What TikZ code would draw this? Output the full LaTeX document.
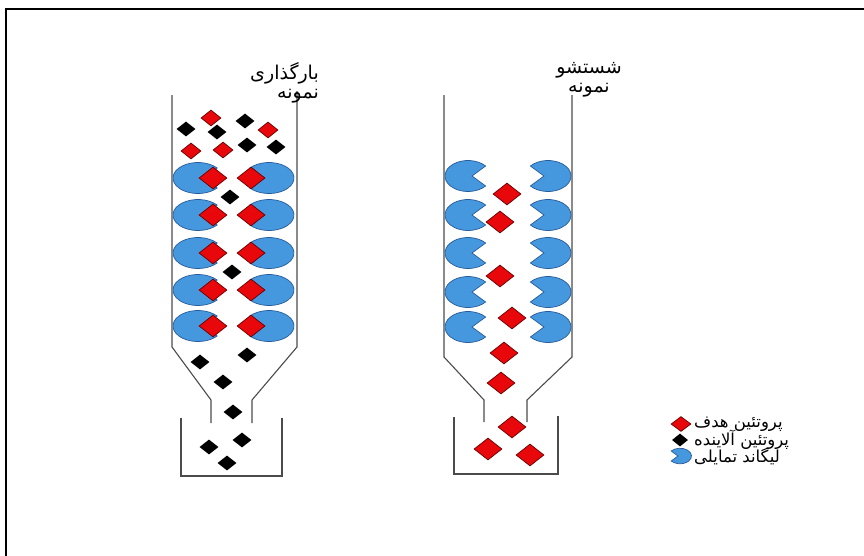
\documentclass[tikz,border=0pt]{standalone}
\usepackage{fontspec}
\newfontfamily\arabicfont[Script=Arabic]{DejaVu Sans}
\TeXXeTstate=1
\usetikzlibrary{shapes.geometric}

\definecolor{targetred}{RGB}{232,8,12}
\definecolor{targetedge}{RGB}{105,0,0}
\definecolor{ligandblue}{RGB}{70,152,222}
\definecolor{ligandedge}{RGB}{38,92,155}
\definecolor{wallgray}{RGB}{75,75,75}

\tikzset{
target/.style = {diamond, draw=targetedge, fill=targetred, line width=0.7pt, inner sep=0pt, minimum width=28pt, minimum height=22pt},
loose/.style = {minimum width=20pt, minimum height=16pt},
impurity/.style = {diamond, fill=black, inner sep=0pt, minimum width=19pt, minimum height=15pt},
wall/.style = {draw=wallgray, line width=1.1pt},
farsi/.style = {font=\arabicfont\fontsize{19}{19}\selectfont, inner sep=0pt},
keytext/.style = {farsi, font=\arabicfont\fontsize{16.5}{16}\selectfont},
pics/ligand/.style = {code = {
  \filldraw[fill=ligandblue, draw=ligandedge, line width=0.7pt]
    (4pt,0pt) -- (40:#1pt and 15.5pt)
    arc[start angle=40, end angle=320, x radius=#1pt, y radius=15.5pt] -- cycle;
}}
}

\begin{document}
\begin{tikzpicture}[x=1pt, y=-1pt]
  \useasboundingbox (0,0) rectangle (864,555);
  \clip (0,0) rectangle (864,555);
  \draw [line width=1.6pt] (6,570) -- (6,9) -- (880,9);

  % loading column
  \draw [wall] (172,95) -- (172,347) -- (211,400) -- (211,423);
  \draw [wall] (297,91) -- (297,347) -- (252,400) -- (252,423);
  \draw [wall] (181,418) -- (181,476) -- (282,476) -- (282,418);

  % washing column
  \draw [wall] (444,95) -- (444,357) -- (484,400) -- (484,422);
  \draw [wall] (572,95) -- (572,357) -- (527,400) -- (527,422);
  \draw [wall] (454,417) -- (454,474) -- (558,474) -- (558,416);

  % ligands with bound target
  \foreach \y [count=\i] in {178,215,253,290,326} {
    \pic at (198,\y) {ligand=25};
    \pic [xscale=-1] at (269,\y) {ligand=25};
    \node [target] (bl-\i) at (213,\y) {};
    \node [target] (br-\i) at (251,\y) {};
  }
  % empty ligands after washing
  \foreach \y in {176,215,253,292,327} {
    \pic at (468,\y) {ligand=23};
    \pic [xscale=-1] at (548,\y) {ligand=23};
  }

  % sample going in
  \foreach \p [count=\i] in {(211,118),(268,130),(191,151),(223,150)}
    \node [target, loose] (t-\i) at \p {};
  \foreach \p [count=\i] in {(245,121),(186,129),(217,132),(247,145),(276,147),
                             (230,197),(232,272),
                             (247,355),(200,362),(223,382),(233,412),
                             (242,440),(209,447),(227,463)}
    \node [impurity] (c-\i) at \p {};

  % eluted target
  \foreach \p [count=\i] in {(507,194),(500,222),(500,276),(512,318),(504,353),
                             (501,383),(512,427),(488,449),(530,455)}
    \node [target] (e-\i) at \p {};

  % titles
  \node [farsi, align=right, anchor=north east] (loadlbl) at (319,62)
    {\beginR بارگذاری\endR\\\beginR نمونه\endR};
  \node [farsi, align=center, anchor=north] (washlbl) at (589,62)
    {\beginR شستشو\endR\\\beginR نمونه\endR};

  % key
  \node [target, minimum width=20pt, minimum height=15pt] (keyt) at (681,424) {};
  \node [impurity, minimum width=16pt, minimum height=13pt] (keyc) at (680,440) {};
  \pic [xscale=-0.5, yscale=0.5] at (680,456) {ligand=23};
  \node [keytext, anchor=west] (keyt-txt) at (694,424) {\beginR پروتئین هدف\endR};
  \node [keytext, anchor=west] (keyc-txt) at (694,440) {\beginR پروتئین آلاینده\endR};
  \node [keytext, anchor=west] (keyl-txt) at (694,456) {\beginR لیگاند تمایلی\endR};
\end{tikzpicture}
\end{document}
